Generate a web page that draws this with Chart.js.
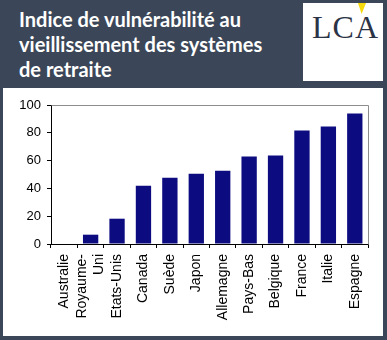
<!DOCTYPE html>
<html>
<head>
<meta charset="utf-8">
<script src="https://cdn.jsdelivr.net/npm/chart.js@4"></script>
<style>
  html, body { margin: 0; padding: 0; }
  body { width: 387px; height: 340px; background: #3b4758; position: relative; overflow: hidden; }
  #titre {
    position: absolute; left: 19px; top: 7px;
    color: #ffffff; font-family: Lato, "Open Sans", sans-serif; font-weight: bold;
    font-size: 20px; line-height: 25px;
  }
  #logo {
    position: absolute; left: 303px; top: 3px; width: 80px; height: 78px; background: #ffffff;
  }
  #logo span {
    position: absolute; left: 9px; top: 6px;
    font-family: "Liberation Serif", serif; font-size: 32px; color: #2b3346; letter-spacing: 1px;
  }
  #logo i {
    position: absolute; left: 55px; top: 0px; width: 8px; height: 11px; background: #f5d90a;
    clip-path: polygon(0 0, 100% 0, 45% 100%);
  }
  #panneau {
    position: absolute; left: 3px; top: 88px; width: 380px; height: 248px; background: #ffffff;
  }
</style>
</head>
<body>
<div id="titre">Indice de vulnérabilité au<br>vieillissement des systèmes<br>de retraite</div>
<div id="logo"><span>LCA</span><i></i></div>
<div id="panneau"><canvas id="graph" width="380" height="248"></canvas></div>
<script>
// pays (Royaume-Uni sur deux lignes)
var pays = ['Australie', ['Royaume-', 'Uni'], 'Etats-Unis', 'Canada', 'Suède', 'Japon',
  'Allemagne', 'Pays-Bas', 'Belgique', 'France', 'Italie', 'Espagne'];
// indice de vulnérabilité
var indice = [0, 6.7, 18.2, 41.9, 47.6, 50.5, 52.7, 62.9, 63.6, 81.6, 84.5, 93.8];
var yMin = 0, yMax = 100, yPas = 20;

// cadre gris en haut et à droite de la zone de tracé
var cadre = {
  id: 'cadre',
  beforeDraw: function(chart) {
    // recentre les étiquettes sur plusieurs lignes autour de leur graduation
    var sx = chart.scales.x;
    var items = sx.getLabelItems(chart.chartArea);
    items.forEach(function(it) {
      if (Array.isArray(it.label)) {
        it.options.translation[0] -= (it.label.length - 1) * it.font.lineHeight / 2;
      }
    });
  },
  afterDraw: function(chart) {
    var a = chart.chartArea, ctx = chart.ctx;
    ctx.save();
    ctx.strokeStyle = '#8c8c8c';
    ctx.lineWidth = 1;
    ctx.beginPath();
    ctx.moveTo(Math.round(a.left) + 0.5, Math.round(a.top) + 0.5);
    ctx.lineTo(Math.round(a.right) + 0.5, Math.round(a.top) + 0.5);
    ctx.lineTo(Math.round(a.right) + 0.5, Math.round(a.bottom) + 0.5);
    ctx.stroke();
    ctx.restore();
  }
};

var policeY = { family: '"Liberation Sans", Arial, sans-serif', size: 13 };
var policeX = { family: '"Liberation Sans", Arial, sans-serif', size: 14, lineHeight: 1.25 };

new Chart(document.getElementById('graph').getContext('2d'), {
  type: 'bar',
  data: {
    labels: pays,
    datasets: [{
      data: indice,
      backgroundColor: '#0c0c80',
      borderWidth: 0,
      categoryPercentage: 1,
      barPercentage: 0.58
    }]
  },
  options: {
    responsive: false,
    animation: false,
    devicePixelRatio: 1,
    layout: { padding: { top: 17, right: 15, left: 0, bottom: 0 } },
    plugins: { legend: { display: false }, tooltip: { enabled: false } },
    scales: {
      x: {
        grid: { display: true, drawOnChartArea: false, drawTicks: true, tickLength: 4, color: '#000000', offset: true },
        border: { color: '#000000' },
        ticks: { color: '#000000', font: policeX, minRotation: 90, maxRotation: 90, padding: 6, autoSkip: false },
        afterFit: function(s) { s.height = 92; }
      },
      y: {
        min: yMin,
        max: yMax,
        grid: { display: true, drawOnChartArea: false, drawTicks: true, tickLength: 4, color: '#000000' },
        border: { color: '#000000' },
        ticks: { color: '#000000', font: policeY, stepSize: yPas, padding: 6 },
        afterFit: function(s) { s.width = 48; }
      }
    }
  },
  plugins: [cadre]
});
</script>
</body>
</html>
